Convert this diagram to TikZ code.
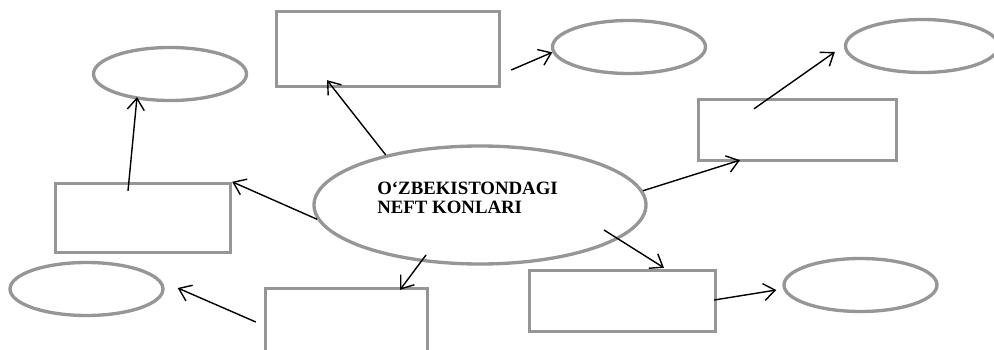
\documentclass[tikz,border=0pt]{standalone}
\usepackage{fontspec}
\setmainfont{Liberation Serif}
\usetikzlibrary{arrows.meta, shapes.geometric}
\definecolor{framegray}{RGB}{150,150,150}

\begin{document}
\begin{tikzpicture}[
  box/.style={draw=framegray, line width=1.9pt, rectangle, inner sep=0pt},
  oval/.style={draw=framegray, line width=1.9pt, ellipse, inner sep=0pt,
    minimum width=3.06cm, minimum height=1.06cm},
  arrow/.style={line width=0.8pt, -{Straight Barb[length=2.3mm,width=3.4mm]}}
]
\useasboundingbox (0,0) rectangle (19.88,6.98);
% centre
\node[draw=framegray, line width=1.9pt, ellipse, minimum width=6.64cm, minimum height=2.36cm] (oil) at (9.60,2.88) {};
\node[anchor=north west, align=left, inner sep=0pt, font=\bfseries\fontsize{10.7}{10.8}\selectfont] (title)
  at ([xshift=-2.06cm,yshift=0.46cm]oil.center) {O‘ZBEKISTONDAGI\\NEFT KONLARI};
% boxes
\node[box, minimum width=4.46cm, minimum height=1.50cm] (boxT) at (7.76,6.00) {};
\node[box, minimum width=3.50cm, minimum height=1.38cm] (boxL) at (2.86,2.62) {};
\node[box, minimum width=3.24cm, minimum height=1.38cm] (boxB) at (6.93,0.52) {};
\node[box, minimum width=3.96cm, minimum height=1.22cm] (boxR) at (15.95,4.38) {};
\node[box, minimum width=3.72cm, minimum height=1.22cm] (boxBR) at (12.45,0.96) {};
% ovals
\node[oval] (ovalT) at (12.58,6.04) {};
\node[oval] (ovalTL) at (3.40,5.50) {};
\node[oval] (ovalBL) at (1.73,1.20) {};
\node[oval] (ovalTR) at (18.44,6.06) {};
\node[oval] (ovalBR) at (17.21,1.28) {};
% arrows
\draw[arrow] (oil.152) -- ([xshift=-1.22cm,yshift=0.16cm]boxT.south);
\draw[arrow] ([xshift=0.20cm,yshift=-0.42cm]boxT.east) -- (ovalT.184);
\draw[arrow] ([xshift=-0.30cm,yshift=-0.18cm]boxL.north) -- ([xshift=-0.66cm,yshift=0.10cm]ovalTL.south);
\draw[arrow] (oil.185) -- (boxL.north east);
\draw[arrow] ([xshift=-1.08cm,yshift=-1.00cm]oil.center) -- ([xshift=1.07cm,yshift=-0.06cm]boxB.north);
\draw[arrow] ([xshift=-0.16cm,yshift=0.02cm]boxB.west) -- ([xshift=0.26cm,yshift=0.02cm]ovalBL.east);
\draw[arrow] (oil.5) -- ([xshift=-1.15cm,yshift=0.04cm]boxR.south);
\draw[arrow] ([xshift=-0.87cm,yshift=-0.22cm]boxR.north) -- ([xshift=-0.18cm,yshift=-0.12cm]ovalTR.west);
\draw[arrow] ([xshift=2.48cm,yshift=-0.50cm]oil.center) -- ([xshift=0.83cm,yshift=0.02cm]boxBR.north);
\draw[arrow] ([xshift=-0.06cm,yshift=0.02cm]boxBR.east) -- ([xshift=-0.12cm,yshift=-0.10cm]ovalBR.west);
\end{tikzpicture}
\end{document}
